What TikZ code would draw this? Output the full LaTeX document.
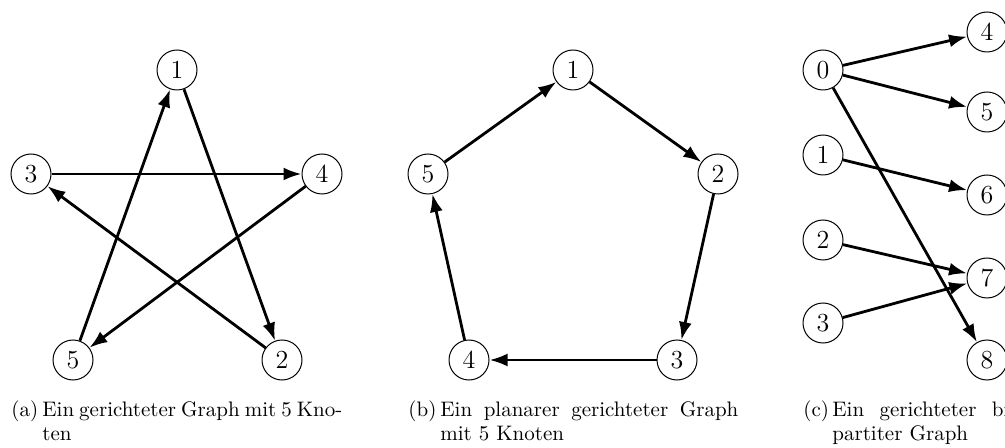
\documentclass[tikz,border=0pt]{standalone}
\usepackage{fontspec}
\usetikzlibrary{arrows.meta}
\begin{document}
\begin{tikzpicture}[x=0.5pt,y=-0.5pt,
  vtx/.style={circle,draw,line width=0.5pt,minimum size=20pt,inner sep=0pt,font=\fontsize{13}{13}\selectfont},
  arr/.style={-{Latex[length=9pt,width=6.5pt]},line width=1.4pt},
  captext/.style={anchor=base west,inner sep=0pt,font=\fontsize{10.5}{12}\selectfont}]
\useasboundingbox (0,0) rectangle (1005,448);
\clip (0,0) rectangle (1005,448);
% (a)
\node[vtx] (a1) at (177,70) {1};
\node[vtx] (a3) at (31,174) {3};
\node[vtx] (a4) at (322,174) {4};
\node[vtx] (a5) at (73,360) {5};
\node[vtx] (a2) at (282,360) {2};
\draw[arr] (a1) -- (a2);
\draw[arr] (a5) -- (a1);
\draw[arr] (a3) -- (a4);
\draw[arr] (a4) -- (a5);
\draw[arr] (a2) -- (a3);
% (b)
\node[vtx] (b1) at (573,70) {1};
\node[vtx] (b5) at (428,174) {5};
\node[vtx] (b2) at (718,174) {2};
\node[vtx] (b4) at (469,360) {4};
\node[vtx] (b3) at (677,360) {3};
\draw[arr] (b1) -- (b2);
\draw[arr] (b2) -- (b3);
\draw[arr] (b3) -- (b4);
\draw[arr] (b4) -- (b5);
\draw[arr] (b5) -- (b1);
% (c)
\node[vtx] (c0) at (823,70) {0};
\node[vtx] (c1) at (823,155) {1};
\node[vtx] (c2) at (823,240) {2};
\node[vtx] (c3) at (823,323) {3};
\node[vtx] (c4) at (987,32) {4};
\node[vtx] (c5) at (987,112) {5};
\node[vtx] (c6) at (987,195) {6};
\node[vtx] (c7) at (987,278) {7};
\node[vtx] (c8) at (987,360) {8};
\draw[arr] (c0) -- (c4);
\draw[arr] (c0) -- (c5);
\draw[arr] (c0) -- (c8);
\draw[arr] (c1) -- (c6);
\draw[arr] (c2) -- (c7);
\draw[arr] (c3) -- (c7);
% captions
\node[captext] (capalab) at (11,416) {(a)};
\node[captext] (capa1) at (42,416) {\makebox[150pt][s]{Ein gerichteter Graph mit 5 Kno-}};
\node[captext] (capa2) at (42,440) {ten};
\node[captext] (capblab) at (408,416) {(b)};
\node[captext] (capb1) at (440,416) {\makebox[149pt][s]{Ein planarer gerichteter Graph}};
\node[captext] (capb2) at (440,440) {mit 5 Knoten};
\node[captext] (capclab) at (803,416) {(c)};
\node[captext] (capc1) at (832,416) {\makebox[92pt][s]{Ein gerichteter bi-}};
\node[captext] (capc2) at (832,440) {partiter Graph};
\end{tikzpicture}
\end{document}
